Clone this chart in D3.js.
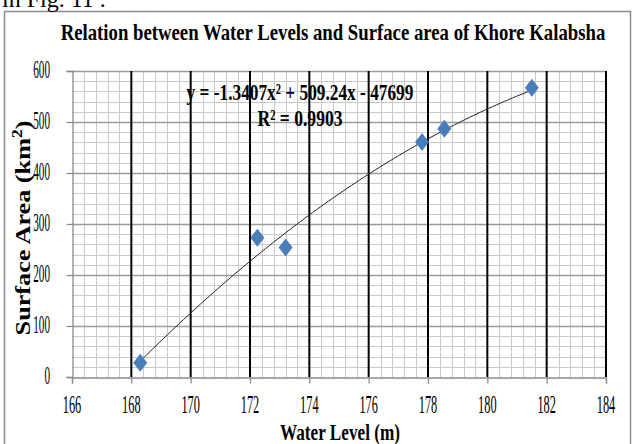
<!DOCTYPE html>
<html><head><meta charset="utf-8">
<script src="https://cdn.jsdelivr.net/npm/d3@7"></script>
<style>body{margin:0;background:#fff;}svg{display:block;} text{font-family:"Liberation Serif", serif;}</style>
</head><body>
<svg id="c" width="633" height="444"></svg>
<script>
const waterLevel = [168.3, 172.25, 173.2, 177.8, 178.55, 181.5];
const surfaceArea = [28, 273, 254, 461, 487, 567];
const xTicks = [166, 168, 170, 172, 174, 176, 178, 180, 182, 184];
const yTicks = [0, 100, 200, 300, 400, 500, 600];
const trendCoef = [-1.3407, 509.24, -47699];
const title = "Relation between Water Levels and Surface area of Khore Kalabsha";
const xTitle = "Water Level (m)";
const eqText = "y = -1.3407x² + 509.24x - 47699";
const r2Text = "R² = 0.9903";

const svg = d3.select("#c");
const x = d3.scaleLinear().domain([166, 184]).range([72, 606]);
const y = d3.scaleLinear().domain([0, 600]).range([377, 71]);

function fitText(parent, str, cx, cy, w, size, weight, anchor, rotate) {
  const gg = parent.append("g").attr("transform", `translate(${cx},${cy})` + (rotate ? ` rotate(${rotate})` : ""));
  const inner = gg.append("g");
  const t = inner.append("text").attr("font-size", size).attr("font-weight", weight || "normal")
    .attr("text-anchor", anchor || "middle");
  if (typeof str === "function") str(t); else t.text(str);
  const natural = t.node().getComputedTextLength();
  inner.attr("transform", `scale(${w / natural},1)`);
  return t;
}

svg.append("rect").attr("x", 4.5).attr("y", 11.5).attr("width", 626).attr("height", 440)
  .attr("fill", "none").attr("stroke", "#8c8c8c").attr("stroke-width", 1.5);

svg.append("text").attr("x", 2).attr("y", 7).attr("font-size", 24).text("in  Fig. 11 .");

const g = svg.append("g");
g.selectAll(".hm").data(d3.range(20, 600, 20).filter(v => v % 100 !== 0)).join("line")
  .attr("x1", x(166)).attr("x2", x(184)).attr("y1", d => Math.round(y(d)) + 0.5).attr("y2", d => Math.round(y(d)) + 0.5)
  .attr("stroke", "#c9c9c9").attr("stroke-width", 1);
g.selectAll(".vm").data(d3.range(0, 45).map(i => 166 + i * 0.4).filter((v, i) => i % 5 !== 0)).join("line")
  .attr("y1", y(0)).attr("y2", y(600)).attr("x1", d => Math.round(x(d)) + 0.5).attr("x2", d => Math.round(x(d)) + 0.5)
  .attr("stroke", "#c9c9c9").attr("stroke-width", 1);
g.selectAll(".hM").data(yTicks.slice(1)).join("line")
  .attr("x1", x(166)).attr("x2", x(184)).attr("y1", d => Math.round(y(d)) + 0.5).attr("y2", d => Math.round(y(d)) + 0.5)
  .attr("stroke", "#9a9a9a").attr("stroke-width", 1.3);
g.selectAll(".vM").data(xTicks.slice(1)).join("line")
  .attr("y1", y(0)).attr("y2", y(600)).attr("x1", d => x(d)).attr("x2", d => x(d))
  .attr("stroke", "#000").attr("stroke-width", 2);

const xAxis = svg.append("g").attr("transform", `translate(0,${Math.round(y(0)) + 0.5})`)
  .call(d3.axisBottom(x).tickValues(xTicks).tickSize(6).tickFormat(""));
const yAxis = svg.append("g").attr("transform", `translate(${Math.round(x(166)) + 0.5},0)`)
  .call(d3.axisLeft(y).tickValues(yTicks).tickSize(6).tickFormat(""));
[xAxis, yAxis].forEach(a => {
  a.select(".domain").attr("stroke", "#8c8c8c").attr("stroke-width", 1.3);
  a.selectAll(".tick line").attr("stroke", "#8c8c8c").attr("stroke-width", 1.3);
  a.selectAll(".tick text").remove();
});
xTicks.forEach(v => fitText(svg, String(v), x(v), 413, 18.5, 25, "normal", "middle"));
yTicks.forEach(v => fitText(svg, String(v), 50, y(v) + 7, String(v).length * 5.6, 25, "normal", "end"));

const xs = d3.range(0, 101).map(i => waterLevel[0] + (waterLevel[waterLevel.length - 1] - waterLevel[0]) * i / 100);
const poly = v => trendCoef[0] * v * v + trendCoef[1] * v + trendCoef[2];
svg.append("path").datum(xs)
  .attr("d", d3.line().x(d => x(d)).y(d => y(poly(d))))
  .attr("fill", "none").attr("stroke", "#222").attr("stroke-width", 1);

svg.selectAll(".pt").data(waterLevel.map((v, i) => [v, surfaceArea[i]])).join("path")
  .attr("transform", d => `translate(${x(d[0])},${y(d[1])})`)
  .attr("d", "M0,-9L7,0L0,9L-7,0Z").attr("fill", "#4a7ebb");

fitText(svg, eqText, 300, 100, 227, 23, "bold", "middle");
fitText(svg, r2Text, 300, 126, 85, 23, "bold", "middle");
fitText(svg, title, 333, 40, 545, 23, "bold", "middle");
fitText(svg, xTitle, 340, 440, 120, 23, "bold", "middle");
fitText(svg, t => {
  t.append("tspan").text("Surface Area (km");
  t.append("tspan").attr("font-size", 14).attr("dy", -8).text("2");
  t.append("tspan").attr("dy", 8).text(")");
}, 30, 228, 215, 21, "bold", "middle", -90);
</script>
</body></html>
